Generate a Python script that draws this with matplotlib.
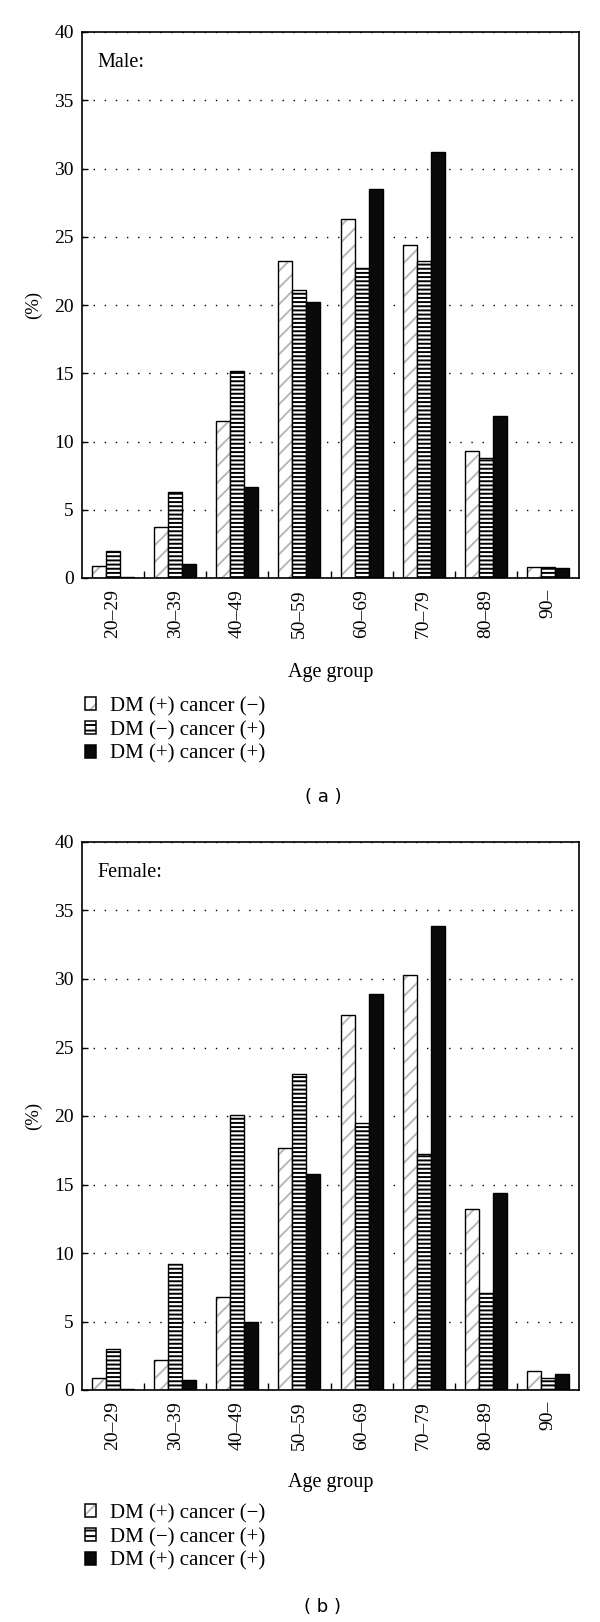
import matplotlib
matplotlib.use("Agg")
import matplotlib.pyplot as plt
from matplotlib.patches import Patch
import numpy as np

age_groups = ["20–29", "30–39", "40–49", "50–59", "60–69", "70–79", "80–89", "90–"]
labels = ["DM (+) cancer (−)", "DM (−) cancer (+)", "DM (+) cancer (+)"]

male_dm_only = [0.9, 3.7, 11.5, 23.2, 26.3, 24.4, 9.3, 0.8]
male_cancer_only = [2.0, 6.3, 15.2, 21.1, 22.7, 23.2, 8.8, 0.8]
male_both = [0.1, 1.0, 6.7, 20.2, 28.5, 31.2, 11.9, 0.7]

female_dm_only = [0.9, 2.2, 6.8, 17.7, 27.4, 30.3, 13.2, 1.4]
female_cancer_only = [3.0, 9.2, 20.1, 23.1, 19.5, 17.2, 7.1, 0.9]
female_both = [0.1, 0.7, 5.0, 15.8, 28.9, 33.9, 14.4, 1.2]

serif = ["Liberation Serif", "DejaVu Serif"]
plt.rcParams["font.family"] = serif
plt.rcParams["hatch.linewidth"] = 1.4

W, H = 600, 1622
fig = plt.figure(figsize=(W / 100, H / 100), dpi=100)

x = np.arange(len(age_groups))
bw = 0.225


def panel(top_px, bottom_px, s1, s2, s3, title):
    ax = fig.add_axes([82 / W, 1 - bottom_px / H, (579 - 82) / W, (bottom_px - top_px) / H])
    # hatched light bars: gray hatch then black outline
    ax.bar(x - bw, s1, bw, color="white", edgecolor="#b5b9b5", hatch="//", linewidth=0)
    ax.bar(x - bw, s1, bw, fill=False, edgecolor="black", linewidth=1.0)
    ax.bar(x, s2, bw, color="white", edgecolor="black", hatch="----", linewidth=1.0)
    ax.bar(x + bw, s3, bw, color="#0a0a0a", edgecolor="black", linewidth=1.0)

    ax.set_xlim(-0.5, len(age_groups) - 0.5)
    ax.set_ylim(0, 40)
    ax.set_yticks(np.arange(0, 41, 5))
    ax.set_xticks(x)
    ax.set_xticklabels(age_groups, rotation=90, fontsize=14)
    ax.set_xticks(np.arange(0.5, len(age_groups) - 1, 1), minor=True)
    ax.tick_params(axis="x", which="major", length=0, pad=8)
    ax.tick_params(axis="x", which="minor", direction="in", length=5, width=1)
    ax.tick_params(axis="y", direction="in", length=4, width=1, labelsize=14, pad=6)
    ax.yaxis.grid(True, color="black", linestyle=(0, (1, 7)), linewidth=1)
    ax.set_axisbelow(True)
    for sp in ax.spines.values():
        sp.set_linewidth(1.2)
    ax.text(0.032, 0.944, title, transform=ax.transAxes, fontsize=14.5, va="center", ha="left")

    fig.text(33 / W, 1 - (top_px + bottom_px) / 2 / H, "(%)", rotation=90,
             ha="center", va="center", fontsize=13.5)
    return ax


def legend_at(top_px):
    hatch_p = Patch(facecolor="white", edgecolor="#b5b9b5", hatch="//", linewidth=0)
    edge_p = Patch(fill=False, edgecolor="black", linewidth=1.1)
    stripe_p = Patch(facecolor="white", edgecolor="black", hatch="---", linewidth=1.1)
    black_p = Patch(facecolor="#0a0a0a", edgecolor="black", linewidth=1.1)
    fig.legend([(hatch_p, edge_p), stripe_p, black_p], labels,
               loc="upper left", bbox_to_anchor=(85 / W, 1 - top_px / H),
               frameon=False, fontsize=15, handlelength=0.52, handleheight=0.58,
               handletextpad=0.7, labelspacing=0.22, borderpad=0, borderaxespad=0)


panel(32, 578, male_dm_only, male_cancer_only, male_both, "Male:")
fig.text(330.5 / W, 1 - 672 / H, "Age group", ha="center", va="center", fontsize=14.5)
legend_at(697)
fig.text(323 / W, 1 - 797 / H, "( a )", ha="center", va="center", fontsize=13,
         family="DejaVu Sans")

panel(842, 1390, female_dm_only, female_cancer_only, female_both, "Female:")
fig.text(330.5 / W, 1 - 1482 / H, "Age group", ha="center", va="center", fontsize=14.5)
legend_at(1504)
fig.text(323 / W, 1 - 1607 / H, "( b )", ha="center", va="center", fontsize=13,
         family="DejaVu Sans")

fig.savefig("out.png", dpi=100)
